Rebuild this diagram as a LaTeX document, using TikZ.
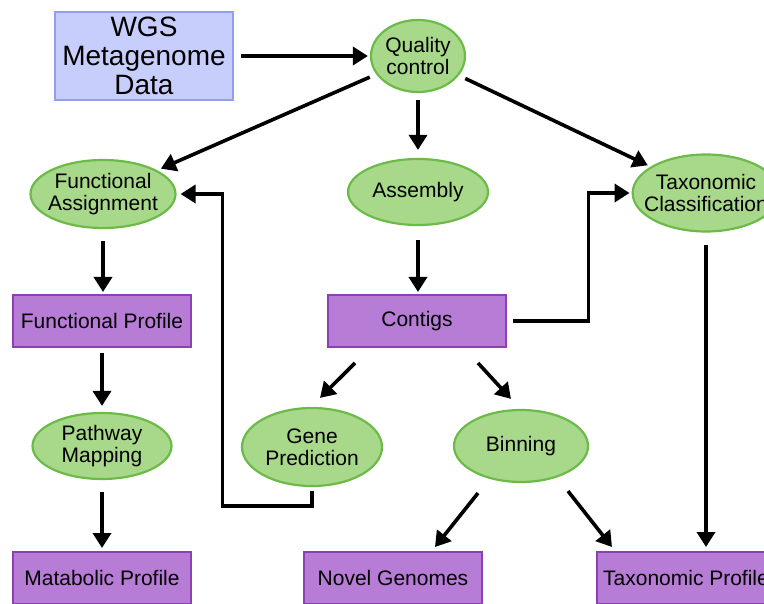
\documentclass[tikz,border=0pt]{standalone}
\usepackage{fontspec}
\setmainfont{Liberation Sans}
\usetikzlibrary{calc}
\usetikzlibrary{arrows.meta}
\usetikzlibrary{shapes}
\definecolor{srcfill}{RGB}{200,206,252}
\definecolor{srcline}{RGB}{146,158,240}
\definecolor{taskfill}{RGB}{168,216,138}
\definecolor{taskline}{RGB}{108,186,72}
\definecolor{resfill}{RGB}{182,124,214}
\definecolor{resline}{RGB}{140,64,180}
\tikzset{
	align=center,
	datasrc/.style={
		draw=srcline,
		fill=srcfill,
		rectangle,
		line width=2pt,
		font=\fontsize{28}{29}\selectfont,
	},
	task/.style={
		draw=taskline,
		fill=taskfill,
		ellipse,
		inner sep=0pt,
		line width=2.2pt,
		font=\fontsize{21}{22}\selectfont,
	},
	result/.style={
		draw=resline,
		fill=resfill,
		rectangle,
		minimum width=178pt,
		minimum height=52pt,
		line width=2pt,
		font=\fontsize{21}{22}\selectfont,
	},
	flow/.style={
		line width=3.6pt,
		shorten <=7pt,
		shorten >=4pt,
		-{Triangle[length=15pt,width=18pt]}
	},
}

\begin{document}
\begin{tikzpicture}[x=1pt,y=-1pt]
		\useasboundingbox (0,0) rectangle (764,604);
		\clip (0,0) rectangle (764,604);

		\node[datasrc,minimum width=178pt,minimum height=88pt] (wgs) at (144,56) {WGS\\Metagenome\\Data};
		\node[task,minimum width=94pt,minimum height=72pt]     (qc) at (418,56) {Quality\\control};

		\node[task,inner xsep=-4pt,minimum width=145pt,minimum height=68pt] (funca) at (103,194) {Functional\\Assignment};
		\node[task,minimum width=140pt,minimum height=66pt] (asm) at (418,192) {Assembly};
		\node[task,inner xsep=-10pt,minimum width=146pt,minimum height=77pt] (taxc) at (706,193) {Taxonomic\\Classification};

		\node[result] (funcp) at (102,321) {Functional Profile};
		\node[result] (contigs) at (417,321) {Contigs};

		\node[task,minimum width=139pt,minimum height=66pt] (pathm) at (102,446) {Pathway\\Mapping};
		\node[task,minimum width=140pt,minimum height=78pt] (genep) at (312,447) {Gene\\Prediction};
		\node[task,minimum width=134pt,minimum height=72pt] (binning) at (521,446) {Binning};

		\node[result] (metabp) at (102,578) {Matabolic Profile};
		\node[result] (novelg) at (393,578) {Novel Genomes};
		\node[result] (taxp) at (686,578) {Taxonomic Profile};

		\coordinate (taxin) at ([xshift=-43pt]taxc.west);
		\coordinate (fain) at ([xshift=46pt]funca.east);

		\draw[flow,shorten >=2pt] (wgs) -- (qc);
		\draw[flow] (qc) -- (funca);
		\draw[flow,shorten >=8pt] (qc) -- (asm);
		\draw[flow,shorten >=3pt] (qc) -- (taxc);

		\draw[flow,shorten <=12pt,shorten >=2pt] (funca.south) -- (funca.south |- funcp.north);
		\draw[flow,shorten <=14pt,shorten >=2pt] (asm.south) -- (asm.south |- contigs.north);
		\draw[flow,shorten <=6pt,shorten >=2pt] (contigs.east) -| (taxin) -- (taxc.west);

		\draw[flow,shorten <=5pt,shorten >=6pt] (funcp) -- (pathm);
		\draw[flow,shorten <=0pt,shorten >=0pt] ([xshift=-62pt,yshift=-15pt]contigs.south) -- ([xshift=8pt,yshift=9pt]genep.north);
		\draw[flow,shorten <=0pt,shorten >=0pt] ([xshift=61pt,yshift=-15pt]contigs.south) -- ([xshift=-10pt,yshift=10pt]binning.north);
		\draw[flow,shorten <=4pt,shorten >=4pt] (genep.south) -- ++(0,19) -| (fain) -- (funca.east);

		\draw[flow,shorten <=12pt,shorten >=3pt] (pathm) -- (metabp);
		\draw[flow,shorten <=0pt,shorten >=0pt] ([xshift=-43pt,yshift=-10pt]binning.south) -- ([xshift=42pt,yshift=4pt]novelg.north);
		\draw[flow,shorten <=0pt,shorten >=0pt] ([xshift=47pt,yshift=-8pt]binning.south) -- ([xshift=-74pt,yshift=4pt]taxp.north);
		\draw[flow,shorten <=12pt,shorten >=4pt] (taxc.south) -- (taxc.south |- taxp.north);

	\end{tikzpicture}
\end{document}
